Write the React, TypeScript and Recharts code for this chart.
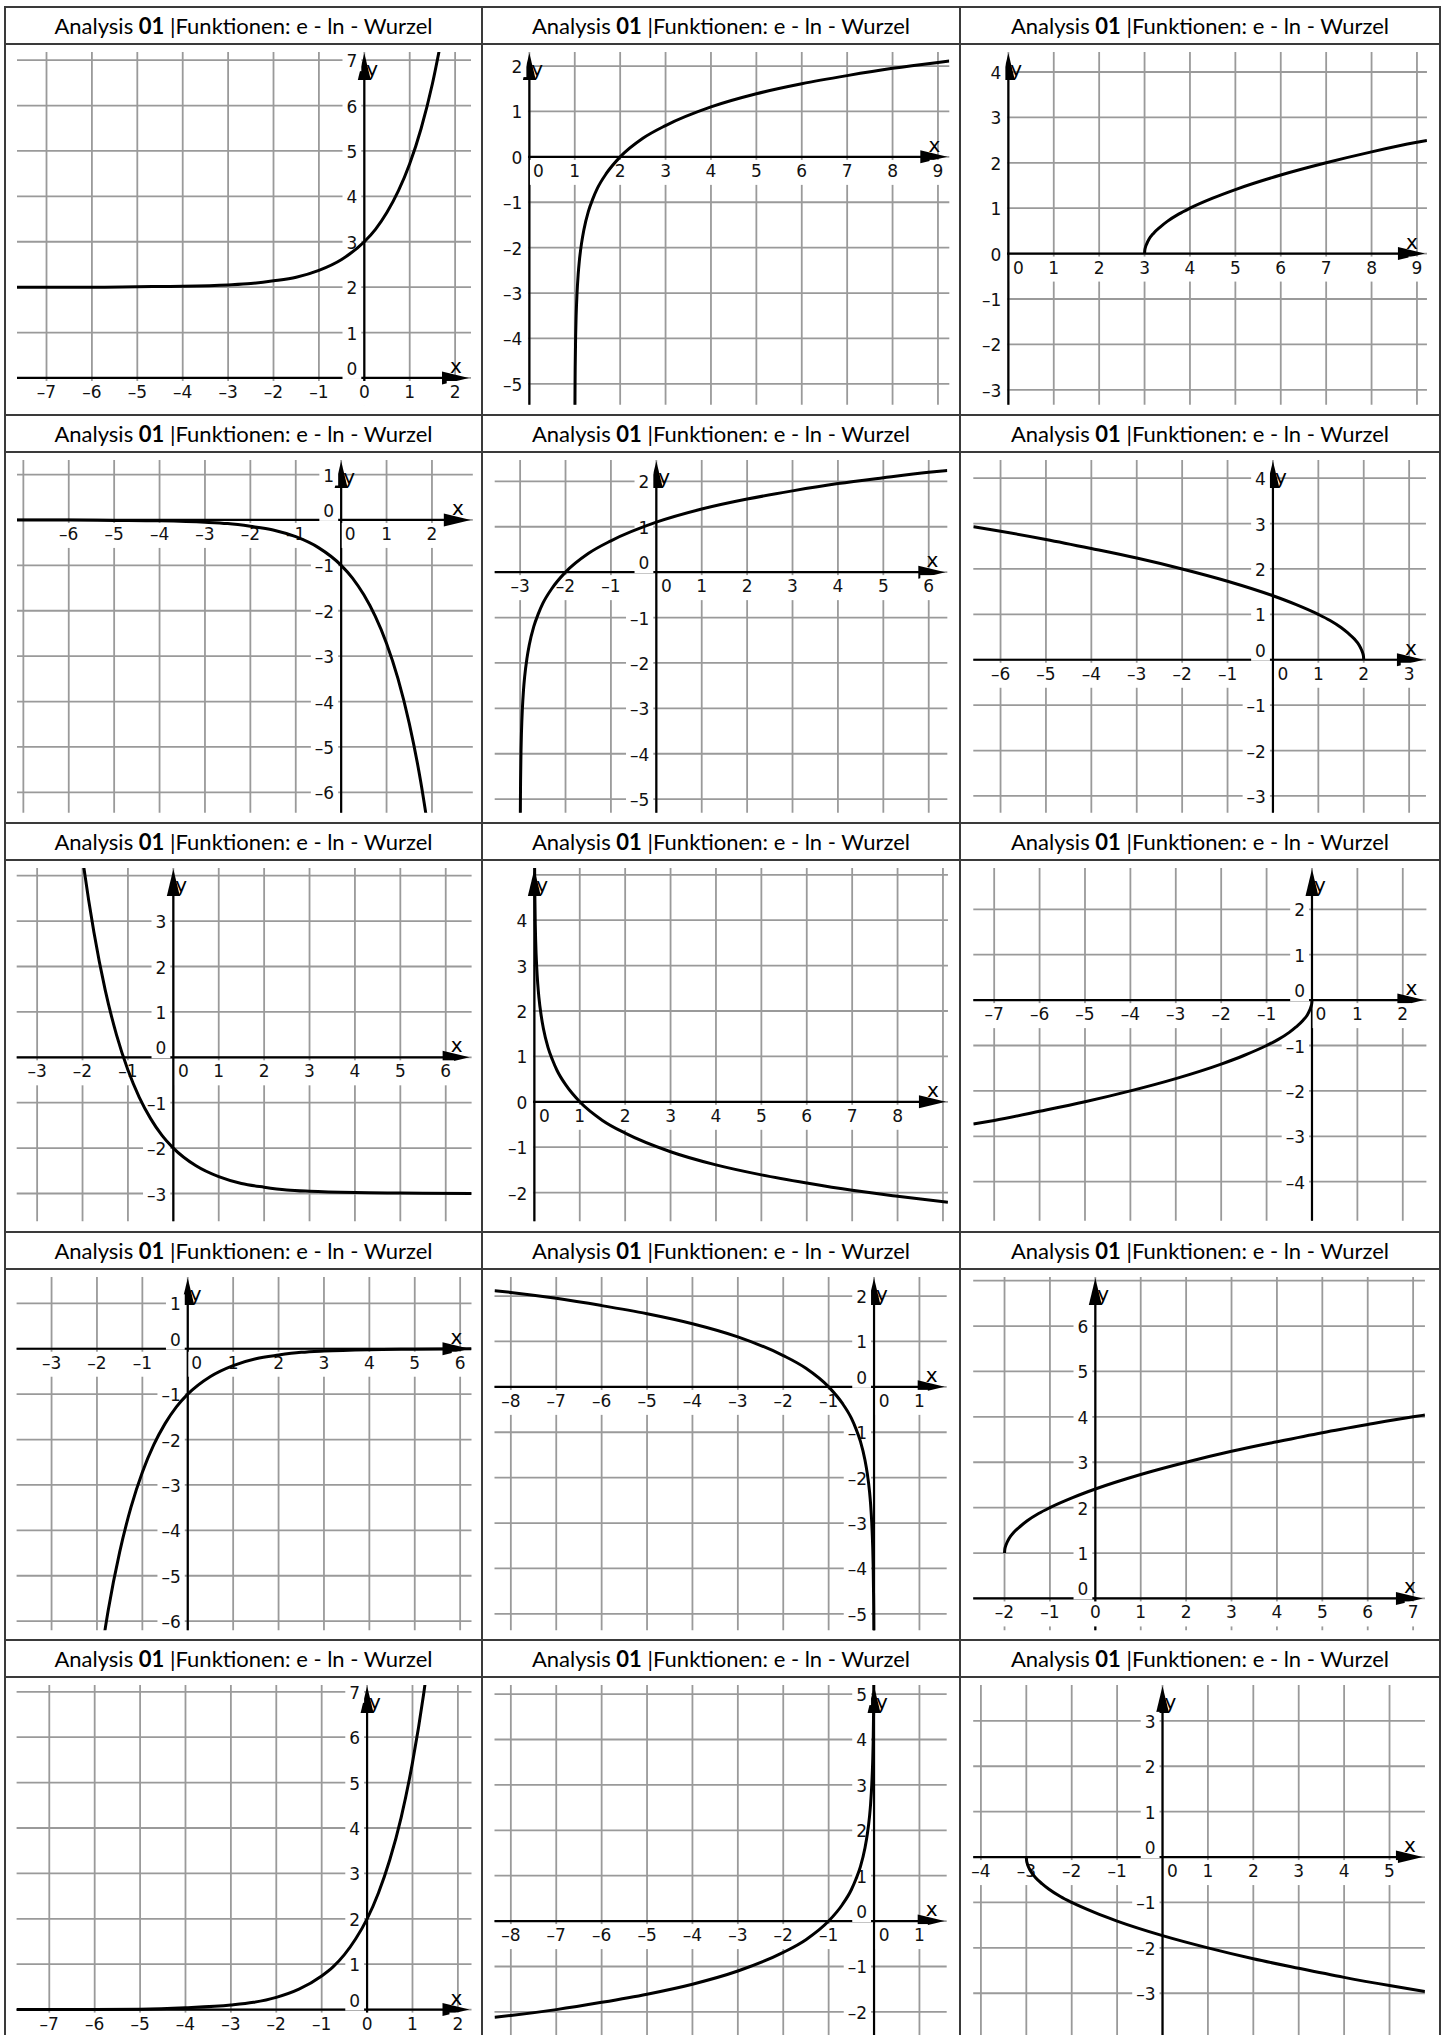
import React from "react";
import { LineChart, Line, XAxis, YAxis, ReferenceLine, ReferenceDot } from "recharts";

// curve samples, one pair of arrays per panel
const expShiftUpX = [-7.65, -7, -6, -5, -4, -3, -2.5, -2, -1.5, -1, -0.5, 0, 0.25, 0.5, 0.75, 1, 1.25, 1.5, 1.7];
const expShiftUpY = [2, 2, 2, 2.01, 2.02, 2.05, 2.08, 2.14, 2.22, 2.37, 2.61, 3, 3.28, 3.65, 4.12, 4.72, 5.49, 6.48, 7.47];

const lnShiftRightX = [1.004, 1.006, 1.01, 1.02, 1.03, 1.05, 1.075, 1.1, 1.15, 1.2, 1.3, 1.4, 1.5, 1.7, 2, 2.5, 3, 4, 5, 6, 7, 8, 9, 9.25];
const lnShiftRightY = [-5.52, -5.12, -4.61, -3.91, -3.51, -3.0, -2.59, -2.3, -1.9, -1.61, -1.2, -0.92, -0.69, -0.36, 0, 0.41, 0.69, 1.1, 1.39, 1.61, 1.79, 1.95, 2.08, 2.11];

const sqrtShiftRightX = [3, 3.005, 3.02, 3.05, 3.1, 3.2, 3.35, 3.5, 3.75, 4, 4.5, 5, 6, 7, 8, 9, 9.22];
const sqrtShiftRightY = [0, 0.07, 0.14, 0.22, 0.32, 0.45, 0.59, 0.71, 0.87, 1, 1.22, 1.41, 1.73, 2, 2.24, 2.45, 2.49];

const expNegX = [-7.14, -6, -5, -4, -3, -2.5, -2, -1.5, -1, -0.5, 0, 0.25, 0.5, 0.75, 1, 1.25, 1.5, 1.75, 1.9];
const expNegY = [-0.001, -0.002, -0.01, -0.02, -0.05, -0.08, -0.14, -0.22, -0.37, -0.61, -1, -1.28, -1.65, -2.12, -2.72, -3.49, -4.48, -5.75, -6.69];

const lnShiftLeftX = [-2.996, -2.993, -2.99, -2.98, -2.97, -2.95, -2.925, -2.9, -2.85, -2.8, -2.7, -2.6, -2.5, -2.3, -2, -1.5, -1, 0, 1, 2, 3, 4, 5, 6, 6.41];
const lnShiftLeftY = [-5.52, -4.96, -4.61, -3.91, -3.51, -3.0, -2.59, -2.3, -1.9, -1.61, -1.2, -0.92, -0.69, -0.36, 0, 0.41, 0.69, 1.1, 1.39, 1.61, 1.79, 1.95, 2.08, 2.2, 2.24];

const sqrtMirrorX = [-6.6, -6, -5, -4, -3, -2, -1, 0, 0.5, 1, 1.25, 1.5, 1.65, 1.8, 1.9, 1.95, 1.98, 1.995, 2];
const sqrtMirrorY = [2.93, 2.83, 2.65, 2.45, 2.24, 2, 1.73, 1.41, 1.22, 1, 0.87, 0.71, 0.59, 0.45, 0.32, 0.22, 0.14, 0.07, 0];

const expDecayDownX = [-2.05, -2, -1.75, -1.5, -1.25, -1, -0.75, -0.5, -0.25, 0, 0.5, 1, 1.5, 2, 2.5, 3, 4, 5, 6.57];
const expDecayDownY = [4.77, 4.39, 2.76, 1.48, 0.49, -0.28, -0.88, -1.35, -1.72, -2, -2.39, -2.63, -2.78, -2.86, -2.92, -2.95, -2.98, -2.99, -3];

const lnNegX = [0.005, 0.008, 0.01, 0.02, 0.03, 0.05, 0.075, 0.1, 0.15, 0.2, 0.3, 0.4, 0.5, 0.7, 1, 1.5, 2, 3, 4, 5, 6, 7, 8, 9.11];
const lnNegY = [5.3, 4.83, 4.61, 3.91, 3.51, 3.0, 2.59, 2.3, 1.9, 1.61, 1.2, 0.92, 0.69, 0.36, 0, -0.41, -0.69, -1.1, -1.39, -1.61, -1.79, -1.95, -2.08, -2.21];

const sqrtNegMirrorX = [-7.46, -7, -6, -5, -4, -3, -2, -1.5, -1, -0.75, -0.5, -0.35, -0.2, -0.1, -0.05, -0.02, -0.005, 0];
const sqrtNegMirrorY = [-2.73, -2.65, -2.45, -2.24, -2, -1.73, -1.41, -1.22, -1, -0.87, -0.71, -0.59, -0.45, -0.32, -0.22, -0.14, -0.07, 0];

const expDecayNegX = [-1.9, -1.75, -1.5, -1.25, -1, -0.75, -0.5, -0.25, 0, 0.5, 1, 1.5, 2, 2.5, 3, 4, 5, 6.25];
const expDecayNegY = [-6.69, -5.75, -4.48, -3.49, -2.72, -2.12, -1.65, -1.28, -1, -0.61, -0.37, -0.22, -0.14, -0.08, -0.05, -0.02, -0.01, 0];

const lnMirrorX = [-8.36, -8, -7, -6, -5, -4, -3, -2, -1.5, -1, -0.7, -0.5, -0.4, -0.3, -0.2, -0.15, -0.1, -0.075, -0.05, -0.03, -0.02, -0.01, -0.007, -0.004];
const lnMirrorY = [2.12, 2.08, 1.95, 1.79, 1.61, 1.39, 1.1, 0.69, 0.41, 0, -0.36, -0.69, -0.92, -1.2, -1.61, -1.9, -2.3, -2.59, -3.0, -3.51, -3.91, -4.61, -4.96, -5.52];

const sqrtUpX = [-2, -1.995, -1.98, -1.95, -1.9, -1.8, -1.65, -1.5, -1.25, -1, -0.5, 0, 1, 2, 3, 4, 5, 6, 7, 7.26];
const sqrtUpY = [1, 1.07, 1.14, 1.22, 1.32, 1.45, 1.59, 1.71, 1.87, 2, 2.22, 2.41, 2.73, 3, 3.24, 3.45, 3.65, 3.83, 4, 4.04];

const expDoubleX = [-7.72, -7, -6, -5, -4, -3, -2.5, -2, -1.5, -1, -0.75, -0.5, -0.25, 0, 0.25, 0.5, 0.75, 1, 1.25, 1.35];
const expDoubleY = [0, 0.002, 0.005, 0.01, 0.04, 0.1, 0.16, 0.27, 0.45, 0.74, 0.94, 1.21, 1.56, 2, 2.57, 3.3, 4.23, 5.44, 6.98, 7.71];

const lnMirrorNegX = [-8.36, -8, -7, -6, -5, -4, -3, -2, -1.5, -1, -0.7, -0.5, -0.4, -0.3, -0.2, -0.15, -0.1, -0.075, -0.05, -0.03, -0.02, -0.01, -0.007, -0.004];
const lnMirrorNegY = [-2.12, -2.08, -1.95, -1.79, -1.61, -1.39, -1.1, -0.69, -0.41, 0, 0.36, 0.69, 0.92, 1.2, 1.61, 1.9, 2.3, 2.59, 3.0, 3.51, 3.91, 4.61, 4.96, 5.52];

const sqrtNegLeftX = [-3, -2.995, -2.98, -2.95, -2.9, -2.8, -2.65, -2.5, -2.25, -2, -1.5, -1, 0, 1, 2, 3, 4, 5, 5.78];
const sqrtNegLeftY = [0, -0.07, -0.14, -0.22, -0.32, -0.45, -0.59, -0.71, -0.87, -1, -1.22, -1.41, -1.73, -2, -2.24, -2.45, -2.65, -2.83, -2.96];

// grid ticks and tick labels
const xM7to2 = [-7, -6, -5, -4, -3, -2, -1, 0, 1, 2];
const xM6to2 = [-6, -5, -4, -3, -2, -1, 0, 1, 2];
const x0to9 = [0, 1, 2, 3, 4, 5, 6, 7, 8, 9];
const x0to8 = [0, 1, 2, 3, 4, 5, 6, 7, 8];
const xM3to6 = [-3, -2, -1, 0, 1, 2, 3, 4, 5, 6];
const xM6to3 = [-6, -5, -4, -3, -2, -1, 0, 1, 2, 3];
const xM8to1 = [-8, -7, -6, -5, -4, -3, -2, -1, 0, 1];
const xM2to7 = [-2, -1, 0, 1, 2, 3, 4, 5, 6, 7];
const xM4to5 = [-4, -3, -2, -1, 0, 1, 2, 3, 4, 5];
const y0to7 = [0, 1, 2, 3, 4, 5, 6, 7];
const y0to6 = [0, 1, 2, 3, 4, 5, 6];
const yM5to2 = [-5, -4, -3, -2, -1, 0, 1, 2];
const yM3to4 = [-3, -2, -1, 0, 1, 2, 3, 4];
const yM3to3 = [-3, -2, -1, 0, 1, 2, 3];
const yM6to1 = [-6, -5, -4, -3, -2, -1, 0, 1];
const yM2to5 = [-2, -1, 0, 1, 2, 3, 4, 5];
const yM2to4 = [-2, -1, 0, 1, 2, 3, 4];
const yM4to2 = [-4, -3, -2, -1, 0, 1, 2];

const U = 45.4; // px per unit, same on every panel
const COLS = [5, 482, 960, 1440];
const ROWS = [7, 415, 823, 1231.5, 1640, 2048];
const HEAD_H = 37;
const TOP = 8;
const TICK_FONT = "'DejaVu Sans', sans-serif";
const GRID = "#9a9a9a";

type Spec = {
  xs: number[];
  ys: number[];
  xDom: [number, number];
  yDom: [number, number];
  left: number;
  xGrid: number[];
  xLab: number[];
  yGrid: number[];
  yLab: number[];
  zeroShift: number;
  zeroAbove: boolean;
};

const panels: Spec[] = [
  { xs: expShiftUpX, ys: expShiftUpY, xDom: [-7.65, 2.35], yDom: [-0.6, 7.18], left: 12, xGrid: xM7to2, xLab: xM7to2, yGrid: y0to7, yLab: y0to7, zeroShift: 0, zeroAbove: true },
  { xs: lnShiftRightX, ys: lnShiftRightY, xDom: [-0.03, 9.25], yDom: [-5.46, 2.31], left: 46, xGrid: x0to9, xLab: x0to9, yGrid: yM5to2, yLab: yM5to2, zeroShift: 9, zeroAbove: false },
  { xs: sqrtShiftRightX, ys: sqrtShiftRightY, xDom: [-0.03, 9.22], yDom: [-3.33, 4.44], left: 47, xGrid: x0to9, xLab: x0to9, yGrid: yM3to4, yLab: yM3to4, zeroShift: 10, zeroAbove: false },
  { xs: expNegX, ys: expNegY, xDom: [-7.14, 2.9], yDom: [-6.45, 1.32], left: 12, xGrid: xM7to2, xLab: xM6to2, yGrid: yM6to1, yLab: yM6to1, zeroShift: 9, zeroAbove: true },
  { xs: lnShiftLeftX, ys: lnShiftLeftY, xDom: [-3.56, 6.41], yDom: [-5.3, 2.47], left: 12.7, xGrid: xM3to6, xLab: xM3to6, yGrid: yM5to2, yLab: yM5to2, zeroShift: 10, zeroAbove: true },
  { xs: sqrtMirrorX, ys: sqrtMirrorY, xDom: [-6.6, 3.37], yDom: [-3.37, 4.4], left: 13.3, xGrid: xM6to3, xLab: xM6to3, yGrid: yM3to4, yLab: yM3to4, zeroShift: 10, zeroAbove: true },
  { xs: expDecayDownX, ys: expDecayDownY, xDom: [-3.45, 6.57], yDom: [-3.61, 4.17], left: 11.7, xGrid: xM3to6, xLab: xM3to6, yGrid: yM3to4, yLab: yM3to3, zeroShift: 10, zeroAbove: true },
  { xs: lnNegX, ys: lnNegY, xDom: [-0.03, 9.11], yDom: [-2.63, 5.15], left: 51, xGrid: x0to9, xLab: x0to8, yGrid: yM2to5, yLab: yM2to4, zeroShift: 10, zeroAbove: false },
  { xs: sqrtNegMirrorX, ys: sqrtNegMirrorY, xDom: [-7.46, 2.52], yDom: [-4.86, 2.91], left: 13.3, xGrid: xM7to2, xLab: xM7to2, yGrid: yM4to2, yLab: yM4to2, zeroShift: 9, zeroAbove: true },
  { xs: expDecayNegX, ys: expDecayNegY, xDom: [-3.77, 6.25], yDom: [-6.2, 1.58], left: 11.6, xGrid: xM3to6, xLab: xM3to6, yGrid: yM6to1, yLab: yM6to1, zeroShift: 9, zeroAbove: true },
  { xs: lnMirrorX, ys: lnMirrorY, xDom: [-8.36, 1.6], yDom: [-5.36, 2.42], left: 12.5, xGrid: xM8to1, xLab: xM8to1, yGrid: yM5to2, yLab: yM5to2, zeroShift: 10, zeroAbove: true },
  { xs: sqrtUpX, ys: sqrtUpY, xDom: [-2.69, 7.26], yDom: [-0.7, 7.08], left: 13.2, xGrid: xM2to7, xLab: xM2to7, yGrid: y0to7, yLab: y0to6, zeroShift: 0, zeroAbove: true },
  { xs: expDoubleX, ys: expDoubleY, xDom: [-7.72, 2.3], yDom: [-0.62, 7.15], left: 11.6, xGrid: xM7to2, xLab: xM7to2, yGrid: y0to7, yLab: y0to7, zeroShift: 0, zeroAbove: true },
  { xs: lnMirrorNegX, ys: lnMirrorNegY, xDom: [-8.36, 1.6], yDom: [-2.58, 5.2], left: 12.5, xGrid: xM8to1, xLab: xM8to1, yGrid: yM2to5, yLab: yM2to5, zeroShift: 10, zeroAbove: true },
  { xs: sqrtNegLeftX, ys: sqrtNegLeftY, xDom: [-4.17, 5.78], yDom: [-3.99, 3.79], left: 13.2, xGrid: xM4to5, xLab: xM4to5, yGrid: yM3to3, yLab: yM3to3, zeroShift: 10, zeroAbove: true },
];

const fmt = (k: number) => (k < 0 ? "\u2013" + Math.abs(k) : String(k));
const textW = (s: string) => [...s].reduce((w, ch) => w + (ch === "\u2013" ? 8.5 : 10.8), 0);

function XTick({ cx, cy, label, shift }: { cx: number; cy: number; label: string; shift: number }) {
  const w = textW(label) + 6;
  const x = cx + shift;
  return (
    <g>
      <rect x={x - w / 2} y={cy + 3} width={w} height={25} fill="#fff" />
      <text x={x} y={cy + 20} textAnchor="middle" fontFamily={TICK_FONT} fontSize={17} fill="#111">
        {label}
      </text>
    </g>
  );
}

function YTick({ cx, cy, label, above }: { cx: number; cy: number; label: string; above: boolean }) {
  const w = textW(label) + 4;
  const right = cx - 7;
  const base = above ? cy - 3 : cy + 7;
  return (
    <g>
      <rect x={right - w} y={base - 16} width={w + 4} height={20} fill="#fff" />
      <text x={right} y={base} textAnchor="end" fontFamily={TICK_FONT} fontSize={17} fill="#111">
        {label}
      </text>
    </g>
  );
}

const HAxis = (p: any) => {
  const xa = Math.min(p.x1, p.x2);
  const tip = Math.max(p.x1, p.x2) - 2;
  const y = p.y1;
  return (
    <g>
      <line x1={xa} y1={y} x2={tip - 20} y2={y} stroke="#000" strokeWidth={2.2} />
      <polygon points={`${tip},${y} ${tip - 27},${y - 6.5} ${tip - 27},${y + 6.5}`} fill="#000" />
      <text x={tip - 13} y={y - 5} textAnchor="middle" fontFamily={TICK_FONT} fontSize={20} fill="#000">
        x
      </text>
    </g>
  );
};

const VAxis = (p: any) => {
  const yb = Math.max(p.y1, p.y2);
  const tip = Math.min(p.y1, p.y2) + 1;
  const x = p.x1;
  return (
    <g>
      <line x1={x} y1={yb} x2={x} y2={tip + 20} stroke="#000" strokeWidth={2.2} />
      <polygon points={`${x},${tip} ${x - 6.5},${tip + 27} ${x + 6.5},${tip + 27}`} fill="#000" />
      <text x={x + 2} y={tip + 23} textAnchor="start" fontFamily={TICK_FONT} fontSize={20} fill="#000">
        y
      </text>
    </g>
  );
};

function Graph({ spec, width, height }: { spec: Spec; width: number; height: number }) {
  const data = spec.xs.map((x, i) => ({ x, y: spec.ys[i] }));
  const plotW = (spec.xDom[1] - spec.xDom[0]) * U;
  const plotH = (spec.yDom[1] - spec.yDom[0]) * U;
  const margin = {
    top: TOP,
    left: spec.left,
    right: width - spec.left - plotW,
    bottom: height - TOP - plotH,
  };
  return (
    <LineChart width={width} height={height} data={data} margin={margin}>
      <XAxis type="number" dataKey="x" domain={spec.xDom} ticks={spec.xGrid} allowDataOverflow hide />
      <YAxis type="number" domain={spec.yDom} ticks={spec.yGrid} allowDataOverflow hide />
      {spec.xGrid.map((k) => (
        <ReferenceLine key={"gx" + k} x={k} stroke={GRID} strokeWidth={1.8} zIndex={-100} />
      ))}
      {spec.yGrid.map((k) => (
        <ReferenceLine key={"gy" + k} y={k} stroke={GRID} strokeWidth={1.8} zIndex={-100} />
      ))}
      <ReferenceLine y={0} zIndex={250} shape={HAxis} />
      <ReferenceLine x={0} zIndex={250} shape={VAxis} />
      {spec.xLab.map((k) => (
        <ReferenceDot
          key={"xl" + k}
          x={k}
          y={0}
          r={0}
          zIndex={300}
          shape={(p: any) => <XTick cx={p.cx} cy={p.cy} label={fmt(k)} shift={k === 0 ? spec.zeroShift : 0} />}
        />
      ))}
      {spec.yLab.map((k) => (
        <ReferenceDot
          key={"yl" + k}
          x={0}
          y={k}
          r={0}
          zIndex={300}
          shape={(p: any) => <YTick cx={p.cx} cy={p.cy} label={fmt(k)} above={k === 0 && spec.zeroAbove} />}
        />
      ))}
      <Line
        type="monotone"
        dataKey="y"
        stroke="#000"
        strokeWidth={3}
        dot={false}
        activeDot={false}
        isAnimationActive={false}
        zIndex={400}
      />
    </LineChart>
  );
}

function Header() {
  return (
    <span>
      Analysis <b>01</b> |Funktionen: e - ln - Wurzel
    </span>
  );
}

export default function App() {
  const lineColor = "#3a3a3a";
  return (
    <div
      style={{
        position: "absolute",
        left: 0,
        top: 0,
        width: 1450,
        height: 2035,
        overflow: "hidden",
        background: "#fff",
      }}
    >
      {panels.map((spec, i) => {
        const r = Math.floor(i / 3);
        const c = i % 3;
        const left = COLS[c];
        const top = ROWS[r];
        const w = COLS[c + 1] - left;
        const h = ROWS[r + 1] - top;
        return (
          <div key={i}>
            <div
              style={{
                position: "absolute",
                left,
                top,
                width: w,
                height: HEAD_H,
                display: "flex",
                alignItems: "center",
                justifyContent: "center",
                fontFamily: "Lato, 'Open Sans', sans-serif",
                fontSize: 22,
                color: "#000",
              }}
            >
              <Header />
            </div>
            <div style={{ position: "absolute", left, top: top + HEAD_H }}>
              <Graph spec={spec} width={w} height={h - HEAD_H} />
            </div>
          </div>
        );
      })}
      {COLS.map((x) => (
        <div
          key={"v" + x}
          style={{ position: "absolute", left: x - 1, top: ROWS[0] - 1, width: 2, height: 2100, background: lineColor }}
        />
      ))}
      {ROWS.slice(0, 5).map((y) => (
        <React.Fragment key={"h" + y}>
          <div
            style={{ position: "absolute", left: COLS[0] - 1, top: y - 1, width: COLS[3] - COLS[0] + 2, height: 2, background: lineColor }}
          />
          <div
            style={{
              position: "absolute",
              left: COLS[0] - 1,
              top: y + HEAD_H - 1,
              width: COLS[3] - COLS[0] + 2,
              height: 2,
              background: lineColor,
            }}
          />
        </React.Fragment>
      ))}
    </div>
  );
}
